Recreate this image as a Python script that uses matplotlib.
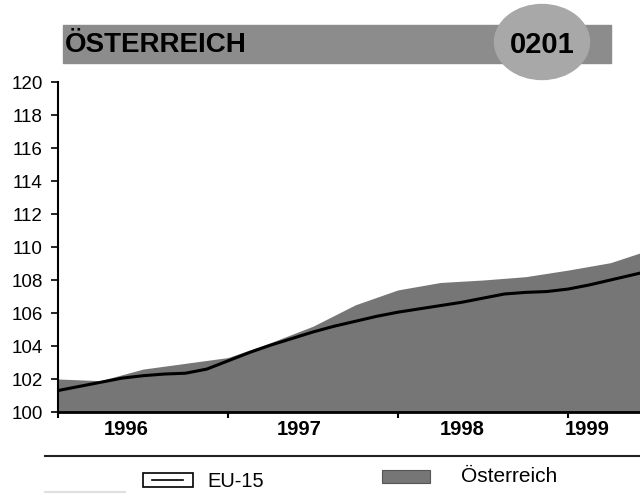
import numpy as np
import matplotlib.pyplot as plt
from matplotlib.patches import Rectangle, Ellipse
from matplotlib.lines import Line2D

plt.rcParams['font.family'] = ['Liberation Sans', 'DejaVu Sans']

# ----- datos (indice, 1996 = 100 aprox) -----
# Oesterreich: trimestral desde 1996
x_at = [1996.0, 1996.25, 1996.5, 1996.75, 1997.0, 1997.25, 1997.5, 1997.75,
        1998.0, 1998.25, 1998.5, 1998.75, 1999.0, 1999.25, 1999.5]
austria = [102.0, 101.9, 102.6, 102.95, 103.3, 104.2, 105.2, 106.5,
           107.4, 107.85, 108.0, 108.2, 108.6, 109.05, 109.9]

# EU-15: cada medio trimestre
x_eu = [1996.0, 1996.125, 1996.25, 1996.375, 1996.5, 1996.625, 1996.75, 1996.875,
        1997.0, 1997.125, 1997.25, 1997.375, 1997.5, 1997.625, 1997.75, 1997.875,
        1998.0, 1998.125, 1998.25, 1998.375, 1998.5, 1998.625, 1998.75, 1998.875,
        1999.0, 1999.125, 1999.25, 1999.375, 1999.5]
eu15 = [101.3, 101.55, 101.8, 102.05, 102.2, 102.3, 102.35, 102.6,
        103.1, 103.6, 104.05, 104.45, 104.85, 105.2, 105.5, 105.8,
        106.05, 106.25, 106.45, 106.65, 106.9, 107.15, 107.25, 107.3,
        107.45, 107.7, 108.0, 108.3, 108.6]

yticks = list(range(100, 121, 2))
year_ticks = [1996, 1997, 1998, 1999]
year_pos = [1996.40, 1997.42, 1998.38, 1999.11]
year_labels = ['1996', '1997', '1998', '1999']

fig = plt.figure(figsize=(6.4, 4.95), dpi=100)
ax = fig.add_axes([58/640, 83/495, 1 - 58/640, 330/495])

ax.fill_between(x_at, 100, austria, color='#767676', lw=0, zorder=1)
ax.plot(x_eu, eu15, color='black', lw=2.2, zorder=3)

ax.set_xlim(1996.0, 1996.0 + 582/170)
ax.set_ylim(100, 120)
ax.set_yticks(yticks)
ax.tick_params(axis='y', labelsize=13.5, length=5, width=1.2, pad=6)
ax.set_xticks(year_ticks)
ax.set_xticklabels([])
ax.tick_params(axis='x', which='major', length=4, width=1.5, direction='out')
ax.set_xticks(year_pos, minor=True)
ax.set_xticklabels(year_labels, minor=True, fontsize=14.5, fontweight='bold')
ax.tick_params(axis='x', which='minor', length=0, pad=6)

for s in ['top', 'right']:
    ax.spines[s].set_visible(False)
ax.spines['left'].set_linewidth(1.5)
ax.spines['bottom'].set_linewidth(2.0)
ax.spines['bottom'].set_zorder(4)

# ----- cabecera -----
fig.patches.append(Rectangle((63/640, 1 - 63/495), 548/640, 38/495,
                             transform=fig.transFigure, color='#8c8c8c', zorder=0))
fig.patches.append(Ellipse((542/640, 1 - 42/495), 95/640, 75/495,
                           transform=fig.transFigure, color='#a8a8a8', zorder=1))
fig.text(65/640, 1 - 45/495, 'ÖSTERREICH', fontsize=20, fontweight='bold',
         va='center', ha='left')
fig.text(542/640, 1 - 45/495, '0201', fontsize=21, fontweight='bold',
         va='center', ha='center')

# ----- leyenda -----
fig.add_artist(Line2D([45/640, 1.0], [1 - 456/495, 1 - 456/495], color='#222222',
                      lw=1.5, transform=fig.transFigure))
fig.patches.append(Rectangle((143/640, 1 - 487/495), 50/640, 14/495,
                             transform=fig.transFigure, facecolor='white',
                             edgecolor='black', lw=1.2))
fig.add_artist(Line2D([152/640, 183/640], [1 - 480/495, 1 - 480/495], color='black',
                      lw=1.2, transform=fig.transFigure))
fig.text(207/640, 1 - 481.5/495, 'EU-15', fontsize=14.5, va='center', ha='left')
fig.patches.append(Rectangle((382/640, 1 - 483/495), 48/640, 13/495,
                             transform=fig.transFigure, facecolor='#767676',
                             edgecolor='#555555', lw=0.8))
fig.text(461/640, 1 - 476/495, 'Österreich', fontsize=15, va='center', ha='left')
fig.add_artist(Line2D([45/640, 125/640], [1 - 492/495, 1 - 492/495], color='#e0e0e0',
                      lw=1.5, transform=fig.transFigure))

plt.savefig('out.png', dpi=100)
